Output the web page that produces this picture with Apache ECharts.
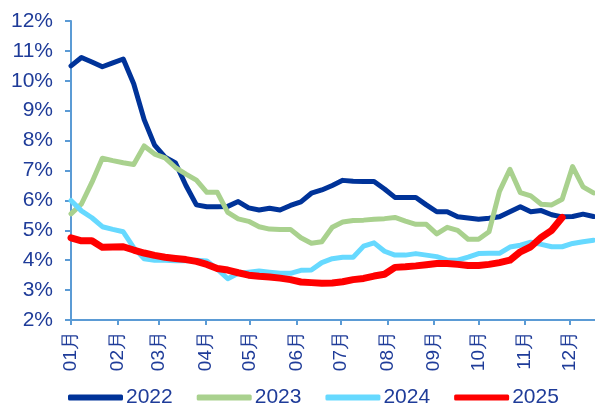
<!DOCTYPE html>
<html><head><meta charset="utf-8">
<script src="https://cdn.jsdelivr.net/npm/echarts@6/dist/echarts.min.js"></script>
<style>html,body{margin:0;padding:0;background:#fff}#c{width:595px;height:403px}</style>
</head><body><div id="c"></div>
<script>
// Month labels and their starting day-of-year
const monthLabels = ["01月","02月","03月","04月","05月","06月","07月","08月","09月","10月","11月","12月"];
const monthStartDays = [0,31,59,90,120,151,181,212,243,273,304,334];
const totalDays = 352;        // axis spans day 0 .. 351
const weekStep = 7;           // data are weekly observations
const seriesNames = ["2022","2023","2024","2025"];

const v2022 = [10.5,10.78,10.63,10.47,10.6,10.73,9.9,8.7,7.85,7.45,7.25,6.5,5.85,5.79,5.79,5.8,5.96,5.75,5.68,5.74,5.68,5.83,5.95,6.24,6.35,6.5,6.67,6.64,6.63,6.63,6.38,6.1,6.1,6.1,5.85,5.62,5.62,5.45,5.41,5.37,5.4,5.45,5.62,5.79,5.62,5.66,5.52,5.45,5.46,5.54,5.46];
const v2023 = [5.55,5.88,6.6,7.41,7.33,7.26,7.2,7.82,7.55,7.42,7.1,6.88,6.68,6.27,6.27,5.6,5.38,5.3,5.12,5.04,5.03,5.03,4.75,4.57,4.62,5.1,5.28,5.33,5.34,5.37,5.39,5.43,5.31,5.2,5.2,4.88,5.1,5.0,4.7,4.7,4.95,6.3,7.04,6.26,6.15,5.87,5.85,6.04,7.13,6.45,6.25];
const v2024 = [6.0,5.65,5.42,5.12,5.03,4.95,4.42,4.05,4.0,4.0,3.98,3.98,4.0,3.97,3.7,3.38,3.56,3.6,3.64,3.6,3.56,3.56,3.66,3.67,3.92,4.05,4.1,4.1,4.47,4.58,4.3,4.17,4.17,4.22,4.17,4.12,4.0,4.0,4.1,4.22,4.23,4.23,4.44,4.5,4.6,4.53,4.45,4.45,4.56,4.62,4.67];
const v2025 = [4.75,4.65,4.65,4.43,4.44,4.45,4.34,4.24,4.16,4.1,4.06,4.02,3.96,3.86,3.72,3.67,3.58,3.5,3.46,3.44,3.4,3.35,3.27,3.25,3.23,3.24,3.28,3.35,3.39,3.47,3.53,3.76,3.78,3.81,3.85,3.89,3.89,3.86,3.82,3.82,3.86,3.92,4.0,4.28,4.45,4.76,5.0,5.43];

const colors = ["#003399","#A9D18E","#66D9FF","#FF0000"];
const widths = [5,5,5,7];

const days = [];
for (let d = 0; d < totalDays; d++) days.push(String(d));
const monthIdx = {};
monthStartDays.forEach((d,i)=>{ monthIdx[d] = monthLabels[i]; });
const toPairs = arr => arr.map((v,i)=>[i*weekStep, v]);

const allVals = [v2022,v2023,v2024,v2025];
const chart = echarts.init(document.getElementById('c'), null, {renderer:'canvas'});
const txt = '#1F3C99';
const ff = 'Liberation Sans, Arial, sans-serif';
chart.setOption({
  animation:false,
  grid:{left:71, right:0, top:21, bottom:83, containLabel:false},
  legend:{
    left:63, top:382, itemWidth:55, itemHeight:6, itemGap:24, icon:'roundRect',
    textStyle:{color:txt, fontSize:21, fontFamily:ff, padding:[0,0,0,-2]},
    data:seriesNames
  },
  xAxis:{
    type:'category', data:days, boundaryGap:false,
    axisLine:{lineStyle:{color:'#5B9BD5', width:2}},
    axisTick:{show:true, length:5, lineStyle:{color:'#5B9BD5', width:2}, interval:(i)=> monthIdx[i]!==undefined},
    axisLabel:{show:true, rotate:90, interval:(i)=> monthIdx[i]!==undefined, formatter:(v)=> monthIdx[+v]||'',
      color:txt, fontSize:19, fontFamily:ff, margin:11},
    splitLine:{show:false}
  },
  yAxis:{
    type:'value', min:2, max:12, interval:1,
    axisLine:{show:true, lineStyle:{color:'#5B9BD5', width:2}},
    axisTick:{show:true, length:6, lineStyle:{color:'#5B9BD5', width:2}},
    axisLabel:{formatter:'{value}%', color:txt, fontSize:21, fontFamily:ff, margin:18},
    splitLine:{show:false}
  },
  series: seriesNames.map((n,k)=>({
    name:n, type:'line', data:toPairs(allVals[k]), symbol:'none', smooth:false,
    lineStyle:{color:colors[k], width:widths[k], cap:'round', join:'round'},
    itemStyle:{color:colors[k]}, z: k===3?5:2+k
  }))
});
</script></body></html>
